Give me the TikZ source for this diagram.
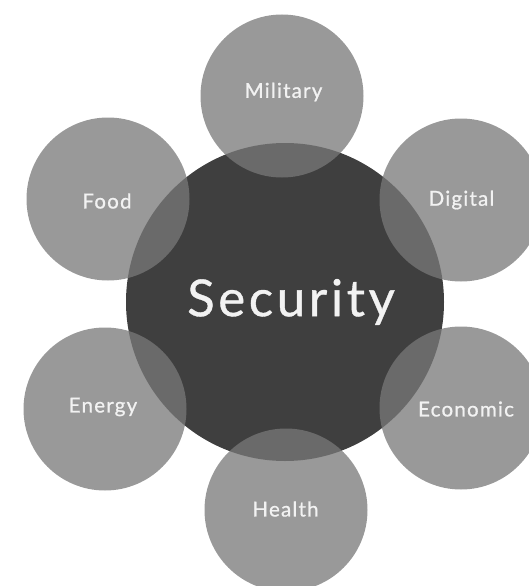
\documentclass[tikz,border=0pt]{standalone}
\usepackage{fontspec}
\setmainfont{Lato}
\newfontfamily\labelfont[LetterSpace=6,FakeBold=0.9]{Lato}
\newfontfamily\bigfont[LetterSpace=7,FakeBold=0.7]{Lato}
\definecolor{darkcore}{HTML}{3F3F3F}
\definecolor{outergray}{RGB}{120,120,120}
\definecolor{labeltext}{HTML}{F2F2F2}
\tikzset{
  core/.style={circle, inner sep=0pt, minimum size=318pt, fill=darkcore},
  petal/.style={circle, inner sep=0pt, minimum size=163pt, fill=outergray,
    fill opacity=0.755},
  biglabel/.style={text=labeltext, font=\bigfont\fontsize{51}{51}\selectfont},
  smalllabel/.style={text=labeltext, font=\labelfont\fontsize{20.5}{20.5}\selectfont}
}
\begin{document}
\begin{tikzpicture}[x=1pt,y=-1pt]
\useasboundingbox (0,0) rectangle (528,586);
\node[core] (security) at (285,302) {};
\node[petal] (military) at (282,96) {};
\node[petal] (food) at (108,199) {};
\node[petal] (digital) at (461,200) {};
\node[petal] (energy) at (105,409) {};
\node[petal] (economic) at (461,408) {};
\node[petal] (health) at (286,510) {};
\node[biglabel] (securitylabel) at (291,302) {Security};
\node[smalllabel] (militarylabel) at (283.5,92) {Military};
\node[smalllabel] (foodlabel) at (107,201) {Food};
\node[smalllabel] (digitallabel) at (461.5,200) {Digital};
\node[smalllabel] (energylabel) at (103,407) {Energy};
\node[smalllabel] (economiclabel) at (466,409) {Economic};
\node[smalllabel] (healthlabel) at (285.5,509) {Health};
\end{tikzpicture}
\end{document}
